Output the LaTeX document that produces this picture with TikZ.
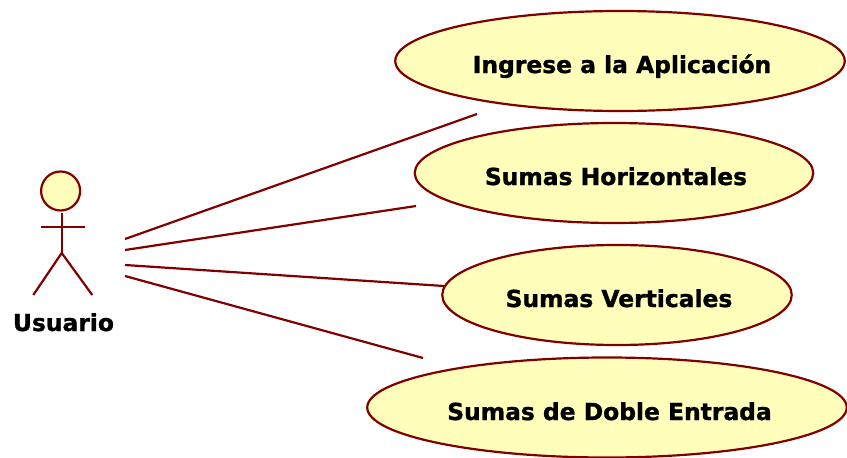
\documentclass[tikz,border=0pt]{standalone}
\usepackage{fontspec}
\setmainfont{DejaVu Sans}[BoldFeatures={FakeBold=1.2}]
\usetikzlibrary{shapes.geometric}
\definecolor{umlline}{RGB}{128,0,0}
\definecolor{umlfill}{RGB}{255,255,187}
\tikzset{x=1pt,y=-1pt,
  usecase/.style={ellipse,draw=umlline,fill=umlfill,line width=2.2pt,inner sep=0pt},
  link/.style={draw=umlline,line width=2.2pt},
  lbl/.style={font=\bfseries\fontsize{23.4}{25}\selectfont,text=black,inner sep=0pt,anchor=base}}
\begin{document}
\begin{tikzpicture}
\useasboundingbox (0,0) rectangle (847,458);
\node[usecase,minimum width=449.5pt,minimum height=100pt] (a) at (620,61) {};
\node[lbl] (at) at (622,73) {Ingrese a la Aplicación};
\node[usecase,minimum width=398.5pt,minimum height=100pt] (b) at (614,173) {};
\node[lbl] (bt) at (616,185) {Sumas Horizontales};
\node[usecase,minimum width=349.5pt,minimum height=100pt] (c) at (617,295) {};
\node[lbl] (ct) at (619,307) {Sumas Verticales};
\node[usecase,minimum width=479.5pt,minimum height=100pt] (d) at (607,407.5) {};
\node[lbl] (dt) at (609.5,420) {Sumas de Doble Entrada};
\node[circle,draw=umlline,fill=umlfill,line width=2.2pt,minimum size=39pt,inner sep=0pt] (head) at (60.6,191) {};
\coordinate (neck) at (61.7,213);
\coordinate (hip) at (61.7,253);
\coordinate (armL) at (40.7,227);
\coordinate (armR) at (85,227);
\coordinate (footL) at (33.3,295);
\coordinate (footR) at (92.3,295);
\draw[link] (neck) -- (hip);
\draw[link] (armL) -- (armR);
\draw[link] (footL) -- (hip) -- (footR);
\node[lbl] (actor) at (63.5,331) {Usuario};
\coordinate (s1) at (125,239);
\coordinate (s2) at (125,250);
\coordinate (s3) at (125,265);
\coordinate (s4) at (125,276);
\coordinate (e1) at (477,114);
\coordinate (e2) at (416,206);
\coordinate (e3) at (444,286);
\coordinate (e4) at (423,358);
\draw[link] (s1) -- (e1);
\draw[link] (s2) -- (e2);
\draw[link] (s3) -- (e3);
\draw[link] (s4) -- (e4);
\end{tikzpicture}
\end{document}
